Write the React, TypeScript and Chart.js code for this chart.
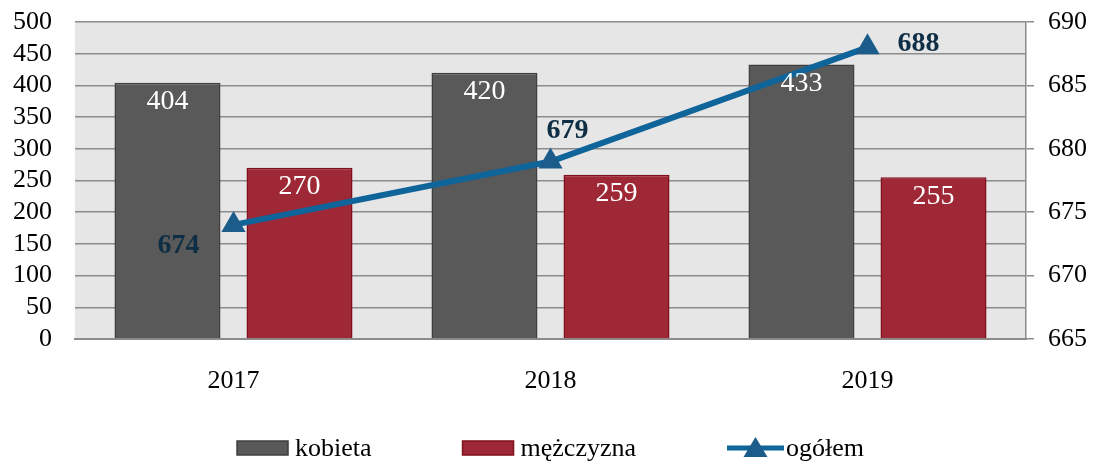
import React, { useEffect, useRef } from 'react';
import { Chart, registerables } from 'chart.js';

Chart.register(...registerables);

const years = ['2017', '2018', '2019'];
const kobieta = [404, 420, 433];
const mezczyzna = [270, 259, 255];
const ogolem = [674, 679, 688];
const seriesNames = ['kobieta', 'mężczyzna', 'ogółem'];

const FONT = "'Liberation Serif', 'Times New Roman', serif";
const GRID = '#8c8c8c';
const C_K = '#595959';
const C_K_B = '#3f3f3f';
const C_M = '#9e2836';
const C_M_B = '#80101e';
const C_LINE = '#0f649a';
const C_MARK = '#1c5c8a';
const C_LBL = '#0d2e44';
// label offsets (style) for line value labels relative to the point
const lineLabelOffsets = [
  [-55, 21],
  [17, -31],
  [51, -4],
];

const bgPlugin = {
  id: 'plotBg',
  beforeDraw(chart: any) {
    const { ctx, chartArea } = chart;
    ctx.save();
    ctx.fillStyle = '#e6e6e6';
    ctx.fillRect(chartArea.left, chartArea.top, chartArea.right - chartArea.left, chartArea.bottom - chartArea.top);
    ctx.restore();
  },
};

const labelPlugin = {
  id: 'valueLabels',
  afterDatasetsDraw(chart: any) {
    const { ctx } = chart;
    ctx.save();
    ctx.textAlign = 'center';
    ctx.textBaseline = 'middle';
    [0, 1].forEach((di) => {
      const meta = chart.getDatasetMeta(di);
      const data = chart.data.datasets[di].data as number[];
      ctx.font = `28px ${FONT}`;
      ctx.fillStyle = '#ffffff';
      meta.data.forEach((el: any, i: number) => {
        ctx.fillText(String(data[i]), el.x, el.y + 19);
      });
    });
    const lm = chart.getDatasetMeta(2);
    const ld = chart.data.datasets[2].data as number[];
    ctx.font = `bold 28px ${FONT}`;
    ctx.fillStyle = C_LBL;
    lm.data.forEach((el: any, i: number) => {
      const [dx, dy] = lineLabelOffsets[i];
      ctx.fillText(String(ld[i]), el.x + dx, el.y + dy);
    });
    ctx.restore();
  },
};

const legendPlugin = {
  id: 'customLegend',
  afterDraw(chart: any) {
    const { ctx, width } = chart;
    ctx.save();
    ctx.font = `26px ${FONT}`;
    ctx.textBaseline = 'middle';
    ctx.textAlign = 'left';
    const symW = [51, 51, 57];
    const gapText = [7, 7, 2];
    const gapItem = 91;
    const widths = seriesNames.map((n, i) => symW[i] + gapText[i] + ctx.measureText(n).width);
    const total = widths.reduce((a, b) => a + b, 0) + gapItem * (seriesNames.length - 1);
    let x = (width - total) / 2 + 4;
    const cy = 448;
    seriesNames.forEach((n, i) => {
      if (i === 0 || i === 1) {
        ctx.fillStyle = i === 0 ? C_K : C_M;
        ctx.strokeStyle = i === 0 ? C_K_B : C_M_B;
        ctx.lineWidth = 1.5;
        ctx.fillRect(x, cy - 7, symW[i], 14);
        ctx.strokeRect(x, cy - 7, symW[i], 14);
      } else {
        ctx.strokeStyle = C_LINE;
        ctx.lineWidth = 5;
        ctx.beginPath();
        ctx.moveTo(x, cy);
        ctx.lineTo(x + symW[i], cy);
        ctx.stroke();
        ctx.fillStyle = C_MARK;
        const mx = x + symW[i] / 2;
        ctx.beginPath();
        ctx.moveTo(mx, cy - 11);
        ctx.lineTo(mx + 12, cy + 9);
        ctx.lineTo(mx - 12, cy + 9);
        ctx.closePath();
        ctx.fill();
      }
      ctx.fillStyle = '#000000';
      ctx.fillText(n, x + symW[i] + gapText[i], cy + 1);
      x += widths[i] + gapItem;
    });
    ctx.restore();
  },
};

export default function App() {
  const ref = useRef<HTMLCanvasElement | null>(null);
  useEffect(() => {
    if (!ref.current) return;
    const chart = new Chart(ref.current, {
      type: 'bar',
      data: {
        labels: years,
        datasets: [
          {
            type: 'bar',
            label: seriesNames[0],
            data: kobieta,
            backgroundColor: C_K,
            borderColor: C_K_B,
            borderWidth: 1.5,
            yAxisID: 'y',
            order: 2,
            categoryPercentage: 0.833,
            barPercentage: 0.803,
          },
          {
            type: 'bar',
            label: seriesNames[1],
            data: mezczyzna,
            backgroundColor: C_M,
            borderColor: C_M_B,
            borderWidth: 1.5,
            yAxisID: 'y',
            order: 2,
            categoryPercentage: 0.833,
            barPercentage: 0.803,
          },
          {
            type: 'line',
            label: seriesNames[2],
            data: ogolem,
            borderColor: C_LINE,
            borderWidth: 6,
            pointStyle: 'triangle',
            pointRadius: 14,
            pointBackgroundColor: C_MARK,
            pointBorderColor: C_MARK,
            pointBorderWidth: 0,
            yAxisID: 'y1',
            order: 0,
            tension: 0,
          } as any,
        ],
      },
      options: {
        animation: false,
        responsive: true,
        maintainAspectRatio: false,
        layout: { padding: { top: 22, left: 0, right: 0, bottom: 0 } },
        plugins: {
          legend: { display: false },
          tooltip: { enabled: false },
        },
        scales: {
          x: {
            grid: { display: false, drawTicks: false },
            border: { display: true, color: GRID, width: 2 },
            ticks: { font: { family: FONT, size: 26 }, color: '#000', padding: 27 },
            afterFit(scale: any) {
              scale.height = 125;
              scale.paddingLeft = 0;
              scale.paddingRight = 0;
            },
          },
          y: {
            position: 'left',
            min: 0,
            max: 500,
            ticks: { stepSize: 50, autoSkip: false, font: { family: FONT, size: 26, lineHeight: 1 }, color: '#000', padding: 23 },
            grid: { color: GRID, lineWidth: 1.5, drawTicks: false },
            border: { display: false },
            afterFit(scale: any) {
              scale.width = 75;
              scale.paddingTop = 0;
              scale.paddingBottom = 0;
            },
          },
          y1: {
            position: 'right',
            min: 665,
            max: 690,
            ticks: { stepSize: 5, autoSkip: false, font: { family: FONT, size: 26, lineHeight: 1 }, color: '#000', padding: 14 },
            grid: { drawOnChartArea: false, color: GRID, lineWidth: 1.5, tickLength: 8 },
            border: { display: true, color: GRID, width: 1.5 },
            afterFit(scale: any) {
              scale.width = 67;
              scale.paddingTop = 0;
              scale.paddingBottom = 0;
            },
          },
        },
      },
      plugins: [bgPlugin, labelPlugin, legendPlugin],
    });
    return () => chart.destroy();
  }, []);
  return (
    <div style={{ position: 'fixed', left: 0, top: 0, width: 1093, height: 464 }}>
      <canvas ref={ref} />
    </div>
  );
}
